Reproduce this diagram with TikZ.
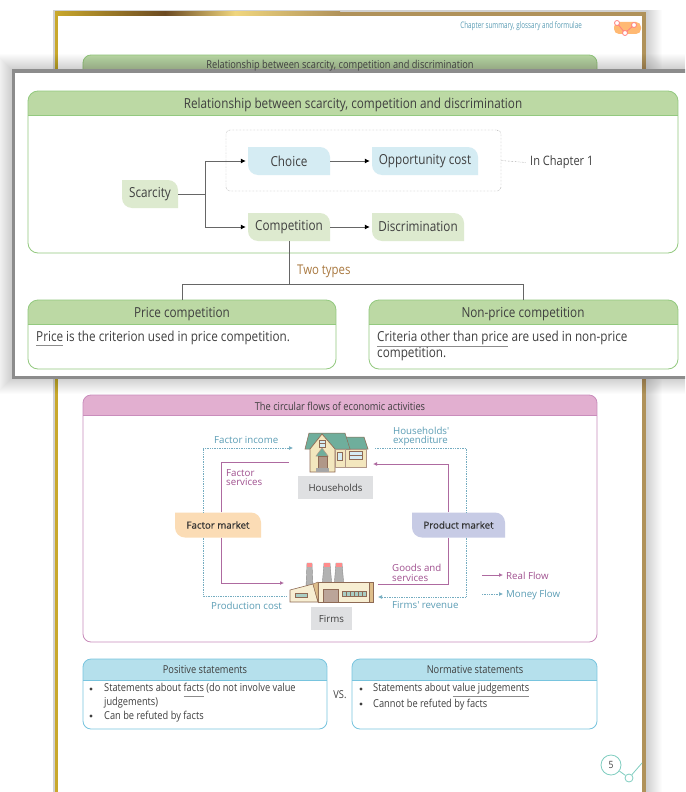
\documentclass[tikz,border=0pt]{standalone}
\usepackage{fontspec}
\setmainfont[FakeStretch=0.85]{Open Sans}
\newfontfamily\flowfont{Open Sans}
\newfontfamily\marketfont[FakeBold=0.5]{Open Sans}
\newfontfamily\headfont[FakeStretch=0.7]{Open Sans}
\usetikzlibrary{arrows.meta}

\definecolor{ink}{HTML}{3F3F3F}
\definecolor{greenhead}{HTML}{BCD9A4}
\definecolor{greenline}{HTML}{93C97F}
\definecolor{greenleaf}{HTML}{DDEACF}
\definecolor{blueleaf}{HTML}{D5ECF3}
\definecolor{bluehead}{HTML}{B5E0EC}
\definecolor{blueline}{HTML}{78C4DE}
\definecolor{pinkhead}{HTML}{E2AFD0}
\definecolor{pinkline}{HTML}{C98CBB}
\definecolor{realflow}{HTML}{A0508F}
\definecolor{moneyflow}{HTML}{5B9DB5}
\definecolor{twotypes}{HTML}{A9783F}
\definecolor{factorleaf}{HTML}{FBDCB5}
\definecolor{productleaf}{HTML}{C7CBE5}
\definecolor{labelgray}{HTML}{DFE0E2}
\definecolor{teal}{HTML}{7FCDC0}
\definecolor{roof}{HTML}{6FAE9C}
\definecolor{wall}{HTML}{F3E7BE}
\definecolor{brick}{HTML}{8E6A55}
\definecolor{goldA}{HTML}{C9A82C}
\definecolor{goldB}{HTML}{6B4A22}
\definecolor{goldC}{HTML}{F0D67E}
\definecolor{goldD}{HTML}{B0925A}

\newcommand{\grayline}[1]{\textcolor{black!45}{\underline{\rule[-3pt]{0pt}{0pt}\textcolor{ink}{#1}}}}

\tikzset{
  leafbox/.style={minimum height=28pt, inner sep=0pt, text=ink, font=\fontsize{13.8}{16}\selectfont,
    path picture={
      \fill[#1] (path picture bounding box.north west)
        -- ([xshift=-10pt]path picture bounding box.north east) arc[start angle=90,end angle=0,radius=10pt]
        -- (path picture bounding box.south east)
        -- ([xshift=10pt]path picture bounding box.south west) arc[start angle=270,end angle=180,radius=10pt]
        -- cycle;}},
  flowbox/.style={leafbox=#1, minimum height=25pt, text=black!80, font=\marketfont\fontsize{9.7}{12}\selectfont},
  graybox/.style={fill=labelgray, inner sep=0pt, text=ink, font=\flowfont\fontsize{9.7}{12}\selectfont},
  linkline/.style={draw=black!60, line width=0.8pt},
  linkarrow/.style={linkline, -{Latex[black,length=5pt,width=5pt]}, shorten >=2pt},
  realline/.style={draw=realflow!85, line width=0.8pt},
  realarrow/.style={realline, -{Latex[length=4pt,width=4pt]}},
  moneyline/.style={draw=moneyflow!85, line width=0.7pt, densely dotted},
  moneyarrow/.style={moneyline, -{Latex[length=4pt,width=4pt]}},
  bigtext/.style={text=ink, inner sep=0pt, yshift=-1.5pt, font=\fontsize{13.8}{16}\selectfont},
  smalltext/.style={text=ink, inner sep=0pt, yshift=-1pt, font=\fontsize{10.9}{14}\selectfont},
  realtext/.style={text=realflow, inner sep=0pt, yshift=-1pt, align=left, font=\flowfont\fontsize{9.7}{9.5}\selectfont},
  moneytext/.style={text=moneyflow, inner sep=0pt, yshift=-1pt, align=left, font=\flowfont\fontsize{9.7}{9.5}\selectfont},
}

\begin{document}
\begin{tikzpicture}[x=1pt,y=-1pt]
    \useasboundingbox (0,0) rectangle (685,792);
    \clip (0,0) rectangle (685,792);

    % -- Page behind the panel: shadow and gold frame --
    \foreach \s in {1,2,...,16}
      \fill[black,opacity=0.012] (53,10) rectangle (646+\s,800);
    \fill[white] (55,13) rectangle (645,800);
    \shade[left color=goldA,right color=goldB] (55,12) rectangle (165,16);
    \shade[left color=goldB,right color=goldC] (165,12) rectangle (235,16);
    \shade[left color=goldC,right color=goldD] (235,12) rectangle (340,16);
    \fill[goldD] (340,12) rectangle (645,16);
    \fill[goldA] (55,12) rectangle (58,800);
    \fill[goldD] (642,12) rectangle (646,800);

    % -- Running head --
    \node[text=moneyflow, inner sep=0pt, anchor=east, font=\headfont\fontsize{9}{12}\selectfont] (runninghead) at (582,26) {Chapter summary, glossary and formulae};
    \fill[orange!55,rounded corners=5pt] (614,22) rectangle (641,34);
    \draw[red!50,line width=0.8pt] (617,23) -- (625,33) -- (634,25);
    \foreach \x/\y in {617/23,625/33,634/25}
      \draw[red!50,fill=white,line width=0.8pt] (\x,\y) circle[radius=2.5pt];

    % -- Cards on the page and inside the panel --
    \foreach \xa/\ya/\xb/\yb/\yh/\head/\edge in {
        83/55/597/85/72/greenhead/greenline,
        83/395/597/642/415/pinkhead/pinkline,
        83/659/327/729/680/bluehead/blueline,
        352/659/597/729/680/bluehead/blueline}
    {
      \begin{scope}
        \clip[rounded corners=8pt] (\xa,\ya) rectangle (\xb,\yb);
        \fill[\head] (\xa,\ya) rectangle (\xb,\yh);
      \end{scope}
      \draw[\edge,line width=0.8pt,rounded corners=8pt] (\xa,\ya) rectangle (\xb,\yb);
      \draw[\edge,line width=0.8pt] (\xa,\yh) -- (\xb,\yh);
    }

    % -- Panel that lies over the page --
    \foreach \s in {1,2,...,16}
      \fill[black,opacity=0.012] (12-\s,70-\s) rectangle (700,378+\s);
    \draw[black!45,line width=3pt,fill=white] (13,71) rectangle (700,377);

    \foreach \xa/\ya/\xb/\yb/\yh in {
        28/91/678/253/115,
        28/300/336/369/324,
        369/300/678/369/324}
    {
      \begin{scope}
        \clip[rounded corners=10pt] (\xa,\ya) rectangle (\xb,\yb);
        \fill[greenhead] (\xa,\ya) rectangle (\xb,\yh);
      \end{scope}
      \draw[greenline,line width=0.8pt,rounded corners=10pt] (\xa,\ya) rectangle (\xb,\yb);
      \draw[greenline,line width=0.8pt] (\xa,\yh) -- (\xb,\yh);
    }

    \node[smalltext] (backtitle) at (340,65) {Relationship between scarcity, competition and discrimination};
    \node[bigtext] (paneltitle) at (353,103) {Relationship between scarcity, competition and discrimination};
    \node[bigtext] (pricetitle) at (182,313) {Price competition};
    \node[bigtext] (nonpricetitle) at (523,313) {Non-price competition};

    % -- Upper flow in the panel --
    \node[draw=black!50, densely dotted, rounded corners=4pt, minimum width=275pt, minimum height=61pt, inner sep=0pt] (chapterbox) at (363.5,160.5) {};
    \node[leafbox=blueleaf, minimum width=82pt] (choice) at (289,161) {Choice};
    \node[leafbox=blueleaf, minimum width=106pt] (oppcost) at (425,161) {Opportunity cost};
    \node[leafbox=greenleaf, minimum width=56pt] (scarcity) at (150,194) {Scarcity};
    \node[leafbox=greenleaf, minimum width=82pt] (competition) at (289,227) {Competition};
    \node[leafbox=greenleaf, minimum width=92pt] (discrimination) at (418,227) {Discrimination};
    \node[bigtext, font=\fontsize{13}{16}\selectfont, anchor=west] (inchapter) at (530,161) {In Chapter 1};
    \node[bigtext, font=\fontsize{13.4}{16}\selectfont, text=twotypes, anchor=west] (twotypeslabel) at (297,270) {Two types};

    \coordinate (fork) at (205,194);
    \coordinate (split) at (289,284);
    \draw[linkline] (scarcity.east) -- (fork);
    \draw[linkarrow] (fork) |- (choice.west);
    \draw[linkarrow] (fork) |- (competition.west);
    \draw[linkarrow] (choice.east) -- (oppcost.west);
    \draw[linkarrow] (competition.east) -- (discrimination.west);
    \draw[black!50,densely dotted] (chapterbox.east) -- ([xshift=-4pt]inchapter.west);

    % -- Two types of competition --
    \draw[linkline] (competition.south) -- (split);
    \draw[linkline] (182,300) |- (split);
    \draw[linkline] (523,300) |- (split);

    \node[bigtext, anchor=west] (pricebody) at (36,337) {\grayline{Price} is the criterion used in price competition.};
    \node[bigtext, anchor=west] (nonpriceline) at (377,337) {\grayline{Criteria other than price} are used in non-price};
    \node[bigtext, anchor=west] (nonpriceend) at (377,353) {competition.};

    % -- Circular flow --
    \node[smalltext] (flowtitle) at (340,405) {The circular flows of economic activities};

    % House
    \fill[roof,draw=brick,line width=0.5pt] (345,437) -- (364,437) -- (368,449) -- (345,449) -- cycle;
    \fill[wall,draw=brick!70,line width=0.5pt] (345,449) rectangle (366,467);
    \fill[roof,draw=brick,line width=0.5pt] (305,449) -- (309,433) -- (345,433) -- (350,449) -- cycle;
    \fill[wall,draw=brick,line width=0.7pt] (310,472) -- (310,449) -- (322,434) -- (335,449) -- (335,472) -- cycle;
    \fill[wall,draw=brick!70,line width=0.5pt] (335,449) rectangle (345,467);
    \fill[roof,draw=brick!70,line width=0.5pt] (322,448) -- (328,456) -- (316,456) -- cycle;
    \fill[brick!70,draw=brick] (318,456) rectangle (327,468);
    \fill[black!35] (316,468) rectangle (329,472);
    \fill[blueleaf,draw=brick,line width=0.5pt] (319,440) rectangle (325,447);
    \draw[brick,line width=0.4pt] (319,443.5) -- (325,443.5);
    \fill[blueleaf,draw=brick,line width=0.5pt] (337,452) rectangle (342,460);
    \fill[blueleaf,draw=brick,line width=0.5pt] (349,451) rectangle (362,459);
    \draw[brick,line width=0.4pt] (349,455) -- (362,455);

    % Factory
    \foreach \xa/\xb/\xc/\xd in {307/312/306/313,324/330/322/332,336/342/334/344}
    {
      \fill[black!30,draw=black!45,line width=0.4pt] (\xa,563) -- (\xb,563) -- (\xd,587) -- (\xc,587) -- cycle;
      \fill[red!45] (\xa,563) rectangle (\xb,567);
    }
    \fill[wall!70!white,draw=brick,line width=0.6pt] (290,590) -- (313,584) -- (318,602) -- (290,602) -- cycle;
    \fill[wall!70!white,draw=brick,line width=0.6pt] (318,582) rectangle (373,602);
    \fill[wall!60!brown,draw=brick,line width=0.4pt] (313,584) -- (318,582) -- (318,602) -- cycle;
    \fill[wall!60!brown,draw=brick,line width=0.4pt] (369,582) rectangle (373,602);
    \fill[brick!60,draw=brick,line width=0.4pt] (323,589) rectangle (338,602);
    \fill[roof!60,draw=brick,line width=0.4pt] (295,593) rectangle (307,597);
    \fill[roof!60,draw=brick,line width=0.4pt] (342,591) rectangle (366,596);
    \foreach \x in {346,350,...,362}
      \draw[brick,line width=0.4pt] (\x,591) -- (\x,596);

    \node[graybox, minimum width=75pt, minimum height=23pt] (households) at (335.5,487.5) {Households};
    \node[graybox, minimum width=41pt, minimum height=23pt] (firms) at (331.5,618.5) {Firms};
    \node[flowbox=factorleaf, minimum width=86pt] (factormarket) at (218,525) {Factor market};
    \node[flowbox=productleaf, minimum width=93pt] (productmarket) at (458.5,525) {Product market};

    \coordinate (houseleft) at (293,448);
    \coordinate (houseright) at (375,448);
    \coordinate (servicesfrom) at (289,462);
    \coordinate (goodsto) at (373,464);
    \coordinate (factoryleft) at (284,583);
    \coordinate (costend) at (286,596);
    \coordinate (goodsfrom) at (378,584);
    \coordinate (revenueto) at (378,597);

    \draw[moneyarrow] ([xshift=-15pt]factormarket.north) |- (houseleft);
    \draw[realline] ([xshift=3pt]factormarket.north) |- (servicesfrom);
    \draw[realarrow] ([xshift=3pt]factormarket.south) |- (factoryleft);
    \draw[moneyline] ([xshift=-15pt]factormarket.south) |- (costend);
    \draw[moneyline] ([xshift=7.5pt]productmarket.north) |- (houseright);
    \draw[realarrow] ([xshift=-10.5pt]productmarket.north) |- (goodsto);
    \draw[realline] ([xshift=-10.5pt]productmarket.south) |- (goodsfrom);
    \draw[moneyarrow] ([xshift=7.5pt]productmarket.south) |- (revenueto);

    \node[moneytext, anchor=west] (factorincome) at (214,439) {Factor income};
    \node[moneytext, anchor=west] (expenditure) at (393,435.5) {Households'\\expenditure};
    \node[realtext, anchor=west] (factorservices) at (226,476.5) {Factor\\services};
    \node[realtext, anchor=west] (goodsservices) at (392,572) {Goods and\\services};
    \node[moneytext, anchor=west] (productioncost) at (211,605) {Production cost};
    \node[moneytext, anchor=west] (revenue) at (392,604) {Firms' revenue};

    % -- Legend --
    \node[realtext, anchor=west] (reallegend) at (506,575) {Real Flow};
    \node[moneytext, anchor=west] (moneylegend) at (506,594) {Money Flow};
    \coordinate (realstart) at (482,575);
    \coordinate (moneystart) at (482,594);
    \draw[realarrow,shorten >=3pt] (realstart) -- (reallegend.west |- realstart);
    \draw[moneyarrow,shorten >=3pt] (moneystart) -- (moneylegend.west |- moneystart);

    % -- Statements --
    \node[smalltext] (positivetitle) at (205,669) {Positive statements};
    \node[smalltext] (normativetitle) at (475,669) {Normative statements};
    \node[smalltext] (versus) at (340,694) {VS.};
    \node[smalltext, anchor=west] (positiveone) at (104,689) {Statements about \grayline{facts} (do not involve value};
    \node[smalltext, anchor=west] (positivetwo) at (104,702) {judgements)};
    \node[smalltext, anchor=west] (positivethree) at (104,716) {Can be refuted by facts};
    \node[smalltext, anchor=west] (normativeone) at (373,689) {Statements about \grayline{value judgements}};
    \node[smalltext, anchor=west] (normativetwo) at (373,704) {Cannot be refuted by facts};
    \foreach \x/\y in {91/689,91/716,361/689,361/704}
      \fill[ink] (\x,\y) circle[radius=1.6pt];

    % -- Page number --
    \node[draw=teal, circle, line width=0.8pt, minimum size=20pt, inner sep=0pt, text=ink, font=\fontsize{10}{12}\selectfont] (pagenumber) at (611,765) {5};
    \node[draw=teal, circle, line width=0.8pt, minimum size=8pt, inner sep=0pt] (pagedot) at (629,778) {};
    \coordinate (pageedge) at (642,763);
    \draw[teal,line width=0.8pt] (pagenumber) -- (pagedot) -- (pageedge);

\end{tikzpicture}
\end{document}
